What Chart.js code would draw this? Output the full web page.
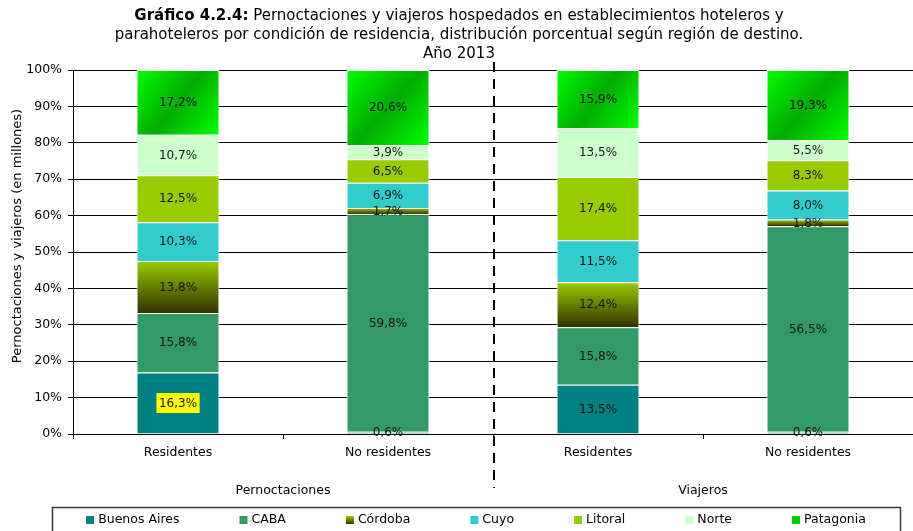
<!DOCTYPE html>
<html><head><meta charset="utf-8">
<script src="https://cdn.jsdelivr.net/npm/chart.js@4"></script>
<style>html,body{margin:0;padding:0;background:#fff}#wrap{width:913px;height:531px;position:relative}</style>
</head><body><div id="wrap"><canvas id="c" width="913" height="531"></canvas></div>
<script>
// ---- text ----
const titleBold = 'Gráfico 4.2.4:';
const titleLines = [' Pernoctaciones y viajeros hospedados en establecimientos hoteleros y',
  'parahoteleros por condición de residencia, distribución porcentual según región de destino.',
  'Año 2013'];
const yAxisTitle = 'Pernoctaciones y viajeros (en millones)';

// ---- categories ----
const categories = ['Residentes', 'No residentes', 'Residentes', 'No residentes'];
const groups = ['Pernoctaciones', 'Viajeros'];
const regions = ['Buenos Aires', 'CABA', 'Córdoba', 'Cuyo', 'Litoral', 'Norte', 'Patagonia'];

// ---- series values (% as labelled) ----
const buenosAires = [16.3, 0.6, 13.5, 0.6];
const caba        = [15.8, 59.8, 15.8, 56.5];
const cordoba     = [13.8, 1.7, 12.4, 1.8];
const cuyo        = [10.3, 6.9, 11.5, 8.0];
const litoral     = [12.5, 6.5, 17.4, 8.3];
const norte       = [10.7, 3.9, 13.5, 5.5];
const patagonia   = [17.2, 20.6, 15.9, 19.3];

// ---- y ticks ----
const yTickMin = 0, yTickMax = 100, yTickStep = 10;

// label with yellow background: [region index, category index]
const highlighted = [[0, 0]];

const FONT = "'DejaVu Sans', Verdana, sans-serif";
const seriesValues = [buenosAires, caba, cordoba, cuyo, litoral, norte, patagonia];
const colors = ['#008080', '#339966', '#669900', '#33CCCC', '#99CC00', '#CCFFCC', '#00CC00'];
const gradientKinds = [null, null, 'vertical', null, null, null, 'diagonal'];

// 100% stacked: each column scaled to its total
const totals = categories.map((_, i) => seriesValues.reduce((s, arr) => s + arr[i], 0));
const shares = seriesValues.map(arr => arr.map((v, i) => v / totals[i] * 100));

function makeGradient(ctx, kind, x0, y0, x1, y1) {
  let g;
  if (kind === 'vertical') {
    g = ctx.createLinearGradient(0, y0, 0, y1);
    g.addColorStop(0, '#99CC00');
    g.addColorStop(1, '#333300');
  } else {
    g = ctx.createLinearGradient(x0, y0, x1, y1);
    g.addColorStop(0, '#00FF00');
    g.addColorStop(0.5, '#00AC00');
    g.addColorStop(1, '#00FF00');
  }
  return g;
}

const gradientPlugin = {
  id: 'gradients',
  beforeDatasetsDraw(chart) {
    const ctx = chart.ctx;
    chart.data.datasets.forEach((ds, di) => {
      const kind = gradientKinds[di];
      if (!kind) return;
      chart.getDatasetMeta(di).data.forEach(el => {
        const p = el.getProps(['x', 'y', 'base', 'width'], true);
        const left = p.x - p.width / 2, right = p.x + p.width / 2;
        const top = Math.min(p.y, p.base), bottom = Math.max(p.y, p.base);
        el.options = Object.assign({}, el.options, {backgroundColor: makeGradient(ctx, kind, left, top, right, bottom)});
      });
    });
  }
};

const labelPlugin = {
  id: 'segLabels',
  afterDatasetsDraw(chart) {
    const ctx = chart.ctx;
    ctx.save();
    ctx.font = '12px ' + FONT;
    ctx.textAlign = 'center';
    ctx.textBaseline = 'middle';
    chart.data.datasets.forEach((ds, di) => {
      chart.getDatasetMeta(di).data.forEach((el, i) => {
        const p = el.getProps(['x', 'y', 'base'], true);
        const cy = (p.y + p.base) / 2;
        const txt = seriesValues[di][i].toFixed(1).replace('.', ',') + '%';
        if (highlighted.some(h => h[0] === di && h[1] === i)) {
          const w = ctx.measureText(txt).width + 5;
          ctx.fillStyle = '#FFFF00';
          ctx.fillRect(p.x - w / 2, cy - 10, w, 20);
        }
        ctx.fillStyle = '#141414';
        ctx.fillText(txt, p.x, cy + 0.5);
      });
    });
    ctx.restore();
  }
};

const decoPlugin = {
  id: 'deco',
  afterDraw(chart) {
    const ctx = chart.ctx;
    const xs = chart.scales.x;
    ctx.save();
    // title
    const cx = 459;
    const TF = 15;
    ctx.textBaseline = 'middle';
    ctx.fillStyle = '#000';
    ctx.font = 'bold ' + TF + 'px ' + FONT;
    const wb = ctx.measureText(titleBold).width;
    ctx.font = TF + 'px ' + FONT;
    const wr = ctx.measureText(titleLines[0]).width;
    let sx = cx - (wb + wr) / 2;
    ctx.textAlign = 'left';
    ctx.font = 'bold ' + TF + 'px ' + FONT;
    ctx.fillText(titleBold, sx, 16);
    ctx.font = TF + 'px ' + FONT;
    ctx.fillText(titleLines[0], sx + wb, 16);
    ctx.textAlign = 'center';
    ctx.fillText(titleLines[1], cx, 35);
    ctx.fillText(titleLines[2], cx, 54);

    // y axis title
    ctx.save();
    ctx.translate(18, 236);
    ctx.rotate(-Math.PI / 2);
    ctx.font = '13px ' + FONT;
    ctx.fillText(yAxisTitle, 0, 0);
    ctx.restore();

    // group labels
    ctx.font = '12.5px ' + FONT;
    groups.forEach((g, gi) => {
      const a = xs.getPixelForValue(gi * 2), b = xs.getPixelForValue(gi * 2 + 1);
      ctx.fillText(g, (a + b) / 2, 491);
    });

    // dashed separator
    const sepX = (xs.getPixelForValue(1) + xs.getPixelForValue(2)) / 2 + 1;
    ctx.strokeStyle = '#000';
    ctx.lineWidth = 2;
    ctx.setLineDash([10, 7]);
    ctx.beginPath();
    ctx.moveTo(sepX, 62);
    ctx.lineTo(sepX, 488);
    ctx.stroke();
    ctx.setLineDash([]);

    // legend
    ctx.strokeStyle = '#3a3a3a';
    ctx.lineWidth = 1.5;
    ctx.strokeRect(52.5, 507.5, 848, 40);
    ctx.font = '12.5px ' + FONT;
    const gap = 60, box = 8, tgap = 4;
    const widths = regions.map(r => box + tgap + ctx.measureText(r).width);
    const total = widths.reduce((s, w) => s + w, 0) + gap * (regions.length - 1);
    let lx = 52 + 848 / 2 - total / 2;
    const ly = 520;
    ctx.textAlign = 'left';
    regions.forEach((r, ri) => {
      ctx.fillStyle = gradientKinds[ri] === 'vertical' ? makeGradient(ctx, 'vertical', lx, ly - 4, lx + box, ly + 4) : colors[ri];
      ctx.fillRect(lx, ly - 4, box, box);
      ctx.fillStyle = '#000';
      ctx.fillText(r, lx + box + tgap, ly);
      lx += widths[ri] + gap;
    });
    ctx.restore();
  }
};

const datasets = regions.map((r, ri) => ({
  label: r,
  data: shares[ri],
  backgroundColor: colors[ri],
  borderColor: '#ffffff',
  borderWidth: 1,
  barPercentage: 0.395,
  categoryPercentage: 1.0
}));

new Chart(document.getElementById('c'), {
  type: 'bar',
  data: {labels: categories, datasets},
  plugins: [gradientPlugin, labelPlugin, decoPlugin],
  options: {
    responsive: false,
    animation: false,
    layout: {padding: {top: 70, left: 0, right: 0, bottom: 0}},
    plugins: {legend: {display: false}, tooltip: {enabled: false}, title: {display: false}},
    scales: {
      x: {
        stacked: true,
        grid: {offset: true, drawOnChartArea: false, drawTicks: true, tickLength: 5, color: '#000'},
        border: {color: '#000', width: 1},
        ticks: {font: {family: FONT, size: 12.5}, color: '#000', padding: 6, maxRotation: 0, autoSkip: false},
        afterFit(s) { s.height = 97; }
      },
      y: {
        stacked: true,
        min: yTickMin, max: yTickMax,
        ticks: {stepSize: yTickStep, callback: v => v + '%', font: {family: FONT, size: 12.5}, color: '#000', padding: 6},
        grid: {color: '#000', lineWidth: 1, drawTicks: true, tickLength: 5},
        border: {color: '#000', width: 1},
        title: {display: false},
        afterFit(s) { s.width = 73; }
      }
    }
  }
});
</script></body></html>
